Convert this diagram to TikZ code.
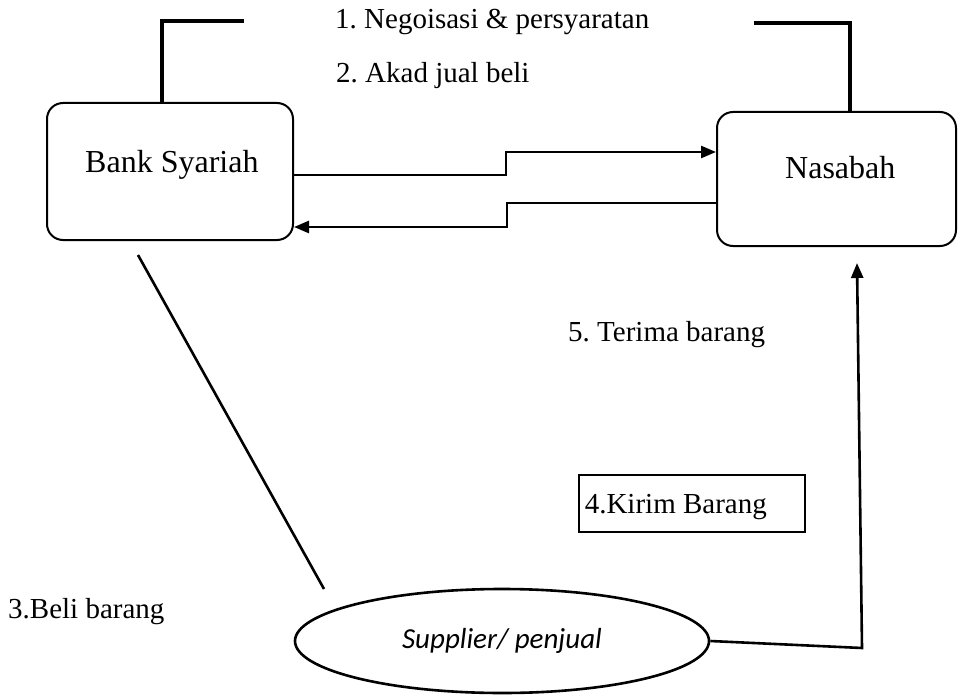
\documentclass[tikz,border=0pt]{standalone}
\usepackage{fontspec}
\setmainfont{Liberation Serif}
\newfontfamily\calib{Carlito}
\usetikzlibrary{shapes.geometric,arrows.meta}
\frenchspacing
\tikzset{
  box/.style={draw,line width=2pt,rounded corners=16pt,inner sep=0pt},
  plainbox/.style={draw,line width=1.8pt,inner sep=0pt},
  lbl/.style={font=\fontsize{29}{34}\selectfont,inner sep=0pt,anchor=base west},
  boxlbl/.style={font=\fontsize{32}{38}\selectfont,inner sep=0pt,anchor=base west},
  thickline/.style={line width=4pt},
  conn/.style={line width=2.6pt},
  arr/.style={conn,-{Triangle[length=15pt,width=12pt]}},
}
\begin{document}
\begin{tikzpicture}[x=1pt,y=-1pt]
\useasboundingbox (0,0) rectangle (958,695);
% boxes
\node[box,minimum width=246pt,minimum height=137pt] (bank) at (170,171.5) {};
\node[box,minimum width=239pt,minimum height=134pt] (nas) at (836.5,179) {};
\node[draw,ellipse,line width=2.6pt,minimum width=414pt,minimum height=104pt,inner sep=0pt,
      font=\calib\itshape\fontsize{29}{34}\selectfont] (sup) at (502,641) {Supplier/ penjual};
\node[plainbox,minimum width=226pt,minimum height=57pt] (kirim) at (692,503.5) {};
% box texts
\node[boxlbl] (tbank) at (85,173) {Bank Syariah};
\node[boxlbl] (tnas) at (785,179) {Nasabah};
\node[lbl,anchor=base east] (tkirim) at (767,513) {4.Kirim Barang};
% labels
\node[lbl] (l1) at (335,29) {1. Negoisasi \& persyaratan};
\node[lbl] (l2) at (336,83) {2. Akad jual beli};
\node[lbl] (l5) at (568,341) {5. Terima barang};
\node[lbl] (l3) at (8,618) {3.Beli barang};
% coordinates
\coordinate (bl) at (244,21);
\coordinate (br) at (754,23);
\coordinate (bs) at (138,255);
\coordinate (be) at (324,589);
\coordinate (corner) at (862,648);
\coordinate (tip) at (857,263);
% top brackets
\draw[thickline] ([xshift=-8pt]bank.north) |- (bl);
\draw[thickline] (br) -| ([xshift=13.5pt]nas.north);
% arrows between bank and nasabah
\draw[arr] (bank.east |- 0,175) -- (506,175) -- (506,152) -- (nas.west |- 0,152);
\draw[arr] (nas.west |- 0,203) -- (507,203) -- (507,227) -- (bank.east |- 0,227);
% bank to supplier
\draw[conn] (bs) -- (be);
% supplier to nasabah
\draw[arr] (sup.east) -- (corner) -- (tip);
\end{tikzpicture}
\end{document}
